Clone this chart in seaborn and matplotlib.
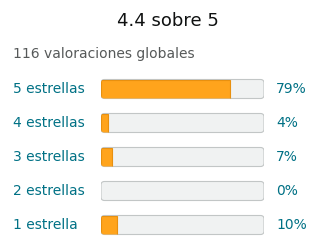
import pandas as pd
import matplotlib.pyplot as plt
import seaborn as sns
from matplotlib.patches import FancyBboxPatch
from matplotlib.transforms import blended_transform_factory

# Data
labels = ["5 estrellas", "4 estrellas", "3 estrellas", "2 estrellas", "1 estrella"]
percents = [79, 4, 7, 0, 10]
title = "4.4 sobre 5"
subtitle = "116 valoraciones globales"

ORANGE = "#FFA41C"
ORANGE_EDGE = "#E8900F"
TRACK = "#F0F2F2"
TRACK_EDGE = "#C2C6C6"
LINK = "#007185"

sns.set_theme(style="white")
plt.rcParams['font.family'] = ['DejaVu Sans']

df = pd.DataFrame({"label": labels, "pct": percents, "full": [100] * len(labels)})

fig = plt.figure(figsize=(3.2, 2.52), dpi=100)
ax = fig.add_axes([101 / 320, 1 - 242 / 252, 163 / 320, 170 / 252])

bar_h = 19 / 34
sns.barplot(data=df, x="full", y="label", orient="h", color=TRACK,
            saturation=1, width=bar_h, ax=ax)
sns.barplot(data=df, x="pct", y="label", orient="h", color=ORANGE,
            saturation=1, width=bar_h, ax=ax)
ax.set_xlim(0, 100)
ax.set_ylim(len(labels) - 0.5, -0.5)

# rounded corners: radius in pixels converted to data units
px_x = 163 / 100
px_y = 34
r_px = 3.5
aspect = (r_px / px_y) / (r_px / px_x)

n = len(labels)
tracks = ax.patches[:n]
fills = ax.patches[n:2 * n]
for tr, fl in zip(tracks, fills):
    x0, y0 = tr.get_x(), tr.get_y()
    w, h = tr.get_width(), tr.get_height()
    tr.set_visible(False)
    box = FancyBboxPatch((x0, y0), w, h,
                         boxstyle=f"round,pad=0,rounding_size={r_px / px_x}",
                         mutation_aspect=aspect, facecolor=TRACK,
                         edgecolor=TRACK_EDGE, linewidth=0.8, zorder=2)
    ax.add_patch(box)
    fl.set_zorder(3)
    fl.set_clip_path(box)
    if fl.get_width() > 0:
        fl.set_edgecolor(ORANGE_EDGE)
        fl.set_linewidth(0.8)
    else:
        fl.set_visible(False)

ax.axis("off")

trans = blended_transform_factory(fig.transFigure, ax.transData)
for i, (lab, p) in enumerate(zip(labels, percents)):
    ax.text(13 / 320, i, lab, transform=trans, ha="left", va="center",
            fontsize=10, color=LINK)
    ax.text(276 / 320, i, f"{p}%", transform=trans, ha="left", va="center",
            fontsize=10, color=LINK)

fig.text(168 / 320, 1 - 21 / 252, title, ha="center", va="center",
         fontsize=13, color="#0F1111")
fig.text(13 / 320, 1 - 54 / 252, subtitle, ha="left", va="center",
         fontsize=10, color="#565959")

fig.savefig("out.png", dpi=100, facecolor="white")
